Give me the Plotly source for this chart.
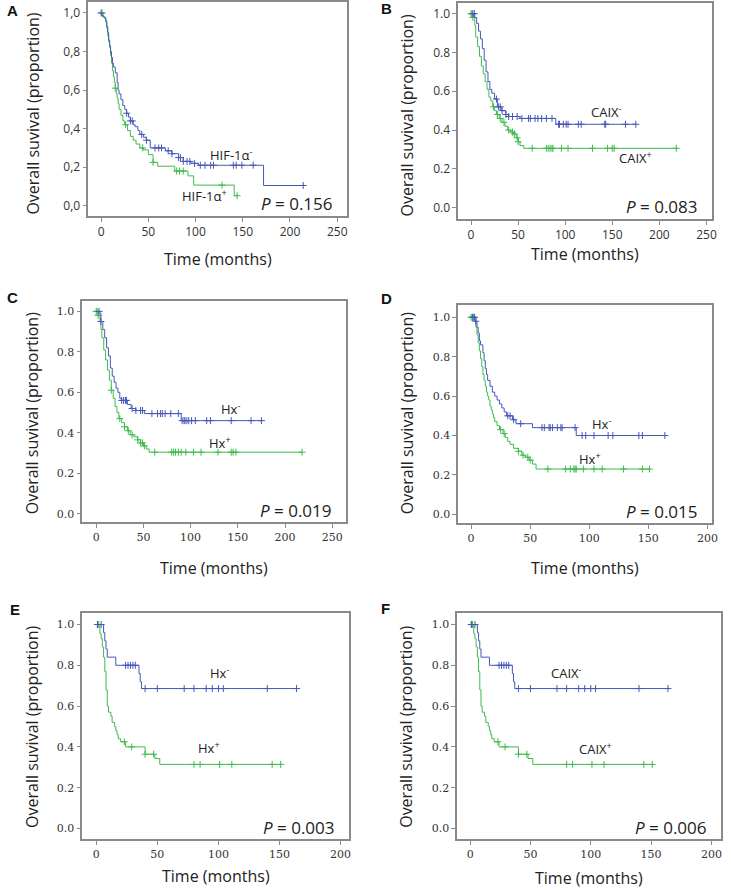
import numpy as np
import plotly.graph_objects as go

W, H = 731, 890

# ---- data (months / proportion surviving) ----
# A: HIF-1a
A_neg_t = [1, 3, 5, 6, 7, 8, 9, 10, 11, 12, 13, 15, 17, 18, 19, 21, 23, 25, 27, 29, 31, 34, 36, 39, 41, 45, 48, 52, 68, 75, 82, 87, 95, 103, 172]
A_neg_s = [0.985, 0.975, 0.96, 0.93, 0.9, 0.86, 0.83, 0.8, 0.77, 0.74, 0.72, 0.69, 0.64, 0.6, 0.58, 0.55, 0.52, 0.5, 0.48, 0.46, 0.44, 0.42, 0.41, 0.39, 0.37, 0.355, 0.34, 0.30, 0.285, 0.27, 0.25, 0.23, 0.22, 0.21, 0.105]
A_neg_c = [0, 27, 31, 33, 43, 48, 57, 61, 64, 71, 75, 82, 84, 87, 91, 94, 99, 105, 110, 116, 119, 140, 143, 149, 161, 214]
A_pos_t = [2, 4, 5, 6, 7, 8, 9, 10, 11, 12, 13, 14, 15, 16, 17, 18, 19, 21, 23, 25, 28, 31, 34, 37, 41, 45, 50, 55, 60, 78, 92, 98, 141]
A_pos_s = [0.98, 0.97, 0.95, 0.92, 0.88, 0.85, 0.82, 0.78, 0.74, 0.7, 0.67, 0.64, 0.61, 0.58, 0.56, 0.53, 0.5, 0.47, 0.44, 0.42, 0.39, 0.36, 0.34, 0.32, 0.3, 0.29, 0.265, 0.225, 0.205, 0.18, 0.155, 0.107, 0.052]
A_pos_c = [1, 15, 26, 44, 55, 80, 83, 87, 128, 144]

# B: CAIX
B_neg_t = [4, 6, 8, 10, 12, 14, 16, 18, 20, 22, 25, 28, 32, 37, 40, 52, 90]
B_neg_s = [0.98, 0.95, 0.91, 0.87, 0.82, 0.76, 0.7, 0.65, 0.61, 0.59, 0.56, 0.52, 0.5, 0.48, 0.47, 0.46, 0.43]
B_neg_c = [2, 3.5, 27, 29, 31, 33, 37, 40, 44, 49, 54, 61, 63, 68, 71, 75, 80, 86, 93, 94, 98, 101, 103, 114, 117, 142, 143, 164, 175]
B_pos_t = [2, 4, 5, 7, 9, 11, 13, 15, 17, 19, 21, 23, 25, 27, 30, 33, 36, 39, 42, 45, 48, 50, 52, 56]
B_pos_s = [0.98, 0.94, 0.88, 0.83, 0.78, 0.73, 0.69, 0.65, 0.61, 0.57, 0.55, 0.52, 0.5, 0.48, 0.46, 0.44, 0.42, 0.4, 0.39, 0.38, 0.36, 0.34, 0.32, 0.306]
B_pos_c = [0, 1, 2, 24, 28, 31, 35, 40, 44, 46, 49, 50, 65, 80, 82, 84, 86, 87, 96, 103, 129, 145, 150, 152, 218]

# C: hypoxia (Hx)
C_neg_t = [4, 5, 7, 9, 11, 13, 15, 17, 19, 21, 23, 25, 27, 33, 37, 42, 51, 90]
C_neg_s = [0.99, 0.95, 0.91, 0.87, 0.82, 0.78, 0.72, 0.68, 0.65, 0.62, 0.6, 0.57, 0.56, 0.54, 0.52, 0.51, 0.495, 0.46]
C_neg_c = [3, 5, 27, 29, 31, 32, 38, 42, 47, 49, 59, 65, 68, 70, 73, 79, 87, 91, 93, 94, 96, 98, 101, 105, 117, 121, 143, 164, 175]
C_pos_t = [2, 4, 5, 6, 8, 10, 12, 14, 16, 18, 20, 22, 24, 27, 30, 33, 36, 40, 44, 47, 50, 53, 56]
C_pos_s = [0.98, 0.95, 0.91, 0.87, 0.81, 0.76, 0.71, 0.66, 0.61, 0.57, 0.53, 0.5, 0.47, 0.45, 0.43, 0.41, 0.39, 0.38, 0.365, 0.35, 0.335, 0.32, 0.304]
C_pos_c = [0, 1, 2, 16, 25, 30, 34, 38, 44, 47, 49, 51, 62, 80, 82, 84, 87, 90, 95, 103, 111, 129, 143, 145, 148, 218]

# D: Hx, subgroup
D_neg_t = [4, 5, 6, 7, 8, 10, 11, 12, 13, 14, 16, 18, 20, 22, 24, 26, 28, 30, 35, 38, 52, 89]
D_neg_s = [0.98, 0.95, 0.92, 0.88, 0.86, 0.82, 0.78, 0.74, 0.71, 0.68, 0.65, 0.62, 0.6, 0.58, 0.56, 0.54, 0.52, 0.5, 0.48, 0.46, 0.44, 0.40]
D_neg_c = [1.4, 3, 4, 31, 33, 36, 42, 60, 62, 66, 67, 69, 73, 76, 77, 88, 94, 97, 104, 116, 120, 142, 145, 164]
D_pos_t = [3, 4, 5, 6, 7, 8, 9, 10, 11, 12, 13, 14, 15, 16, 17, 18, 19, 20, 22, 24, 27, 29, 31, 33, 36, 40, 43, 46, 49, 52, 55]
D_pos_s = [0.98, 0.95, 0.91, 0.87, 0.83, 0.79, 0.75, 0.71, 0.68, 0.65, 0.62, 0.6, 0.58, 0.55, 0.53, 0.51, 0.49, 0.47, 0.45, 0.43, 0.41, 0.39, 0.37, 0.355, 0.335, 0.32, 0.3, 0.29, 0.275, 0.255, 0.23]
D_pos_c = [0, 1, 2, 25, 28, 40, 44, 48, 50, 65, 80, 84, 87, 88, 89, 95, 104, 111, 129, 145, 151]

# E: Hx, small subgroup
E_neg_t = [6, 7, 8, 9, 16, 35, 36, 37]
E_neg_s = [0.96, 0.92, 0.88, 0.84, 0.80, 0.76, 0.72, 0.686]
E_neg_c = [1, 4, 24, 26, 28, 30, 32, 40, 50, 72, 80, 90, 95, 100, 104, 140, 164]
E_pos_t = [3, 4, 5, 6, 7, 8, 9, 10, 12, 13, 15, 16, 17, 18, 20, 24, 40, 48, 52]
E_pos_s = [0.955, 0.93, 0.89, 0.84, 0.77, 0.68, 0.6, 0.57, 0.55, 0.52, 0.5, 0.48, 0.46, 0.44, 0.425, 0.4, 0.364, 0.343, 0.314]
E_pos_c = [1, 2, 23, 29, 40, 47, 80, 85, 101, 111, 144, 151]

# F: CAIX, same subgroup (curves identical to E)
F_neg_t, F_neg_s, F_neg_c = list(E_neg_t), list(E_neg_s), list(E_neg_c)
F_pos_t, F_pos_s, F_pos_c = list(E_pos_t), list(E_pos_s), list(E_pos_c)

p_values = ["0.156", "0.083", "0.019", "0.015", "0.003", "0.006"]
neg_labels = ["HIF-1α<sup>-</sup>", "CAIX<sup>-</sup>", "Hx<sup>-</sup>", "Hx<sup>-</sup>", "Hx<sup>-</sup>", "CAIX<sup>-</sup>"]
pos_labels = ["HIF-1α<sup>+</sup>", "CAIX<sup>+</sup>", "Hx<sup>+</sup>", "Hx<sup>+</sup>", "Hx<sup>+</sup>", "CAIX<sup>+</sup>"]
letters = ["A", "B", "C", "D", "E", "F"]
y_ticks = [0.0, 0.2, 0.4, 0.6, 0.8, 1.0]

BLUE = "#4657b8"
GREEN = "#3fbb4e"
FRAME = "#8a8a8a"

# ---- layout per panel (pixel boxes, axis ranges, label spots) ----
panels = [
    dict(box=(89, 350, 1, 215), xr=[-13.6, 260.5], yr=[-0.052, 1.057], xmax=250,
         neg=(A_neg_t, A_neg_s, A_neg_c), pos=(A_pos_t, A_pos_s, A_pos_c),
         neg_xy=(138, 0.264), pos_xy=(110, 0.052), comma=True, serif=False,
         letter=(5, 10), ytitle=(33, 113), xtitle_y=258),
    dict(box=(462, 718, 2, 218), xr=[-13.6, 256], yr=[-0.057, 1.055], xmax=250,
         neg=(B_neg_t, B_neg_s, B_neg_c), pos=(B_pos_t, B_pos_s, B_pos_c),
         neg_xy=(144, 0.494), pos_xy=(175, 0.257), comma=False, serif=False,
         letter=(382, 8), ytitle=(410, 115), xtitle_y=253),
    dict(box=(83, 349, 300, 522), xr=[-14.7, 264.7], yr=[-0.043, 1.053], xmax=250,
         neg=(C_neg_t, C_neg_s, C_neg_c), pos=(C_pos_t, C_pos_s, C_pos_c),
         neg_xy=(142, 0.52), pos_xy=(131, 0.352), comma=False, serif=True,
         letter=(5, 297), ytitle=(32, 413), xtitle_y=568),
    dict(box=(462, 718, 304, 523), xr=[-10.9, 204], yr=[-0.046, 1.064], xmax=200,
         neg=(D_neg_t, D_neg_s, D_neg_c), pos=(D_pos_t, D_pos_s, D_pos_c),
         neg_xy=(110, 0.46), pos_xy=(101, 0.284), comma=False, serif=True,
         letter=(382, 298), ytitle=(410, 413), xtitle_y=568),
    dict(box=(83, 352, 613, 839), xr=[-11.4, 207], yr=[-0.052, 1.055], xmax=200,
         neg=(E_neg_t, E_neg_s, E_neg_c), pos=(E_pos_t, E_pos_s, E_pos_c),
         neg_xy=(101, 0.766), pos_xy=(92, 0.395), comma=False, serif=True,
         letter=(8, 609), ytitle=(32, 727), xtitle_y=876),
    dict(box=(461, 727, 613, 839), xr=[-10.7, 208], yr=[-0.052, 1.055], xmax=200,
         neg=(F_neg_t, F_neg_s, F_neg_c), pos=(F_pos_t, F_pos_s, F_pos_c),
         neg_xy=(80, 0.766), pos_xy=(104, 0.39), comma=False, serif=True,
         letter=(382, 608), ytitle=(410, 727), xtitle_y=878),
]


def km_line(t, s, cens):
    end = max(max(cens), max(t))
    x = [0] + list(t) + [end]
    y = [1.0] + list(s) + [s[-1]]
    t_arr = np.array(t, dtype=float)
    idx = np.searchsorted(t_arr, np.array(cens, dtype=float), side="right") - 1
    cy = [1.0 if i < 0 else s[i] for i in idx]
    return x, y, cy


fig = go.Figure()
layout = dict(width=W, height=H, margin=dict(l=0, r=0, t=0, b=0),
              paper_bgcolor="white", plot_bgcolor="white", showlegend=False)
annotations = []

for k, p in enumerate(panels):
    n = "" if k == 0 else str(k + 1)
    xa, ya = "x" + n, "y" + n
    x0, x1, y0, y1 = p["box"]

    for (t, s, c), col in ((p["pos"], GREEN), (p["neg"], BLUE)):
        lx, ly, cy = km_line(t, s, c)
        fig.add_trace(go.Scatter(x=lx, y=ly, mode="lines", line=dict(color=col, width=1, shape="hv"),
                                 xaxis=xa, yaxis=ya, hoverinfo="skip"))
        fig.add_trace(go.Scatter(x=c, y=cy, mode="markers", xaxis=xa, yaxis=ya,
                                 marker=dict(symbol="cross-thin", size=5, line=dict(color=col, width=1))))

    tick_font = dict(family="DejaVu Serif", size=11, color="#333") if p["serif"] \
        else dict(family="Open Sans", size=12, color="#333")
    ytext = [f"{v:.1f}".replace(".", ",") if p["comma"] else f"{v:.1f}" for v in y_ticks]

    axis_common = dict(showline=True, linecolor=FRAME, linewidth=1.5, mirror=True,
                       ticks="outside", ticklen=4, tickcolor=FRAME, tickwidth=1.2,
                       showgrid=False, zeroline=False, tickfont=tick_font)
    layout["xaxis" + n] = dict(axis_common, domain=[x0 / W, x1 / W], range=p["xr"],
                               tickvals=list(range(0, p["xmax"] + 1, 50)), anchor=ya)
    layout["yaxis" + n] = dict(axis_common, domain=[1 - y1 / H, 1 - y0 / H], range=p["yr"],
                               tickvals=y_ticks, ticktext=ytext, anchor=xa)

    txt = dict(family="Open Sans", size=13, color="#222")
    annotations += [
        dict(x=p["neg_xy"][0], y=p["neg_xy"][1], xref=xa, yref=ya, text=neg_labels[k],
             showarrow=False, font=txt),
        dict(x=p["pos_xy"][0], y=p["pos_xy"][1], xref=xa, yref=ya, text=pos_labels[k],
             showarrow=False, font=txt),
        dict(x=(x1 - 12) / W, y=1 - (y1 - 12) / H, xref="paper", yref="paper",
             text="<i>P</i> = " + p_values[k], showarrow=False, xanchor="right", yanchor="middle",
             font=dict(family="Open Sans", size=17, color="#222")),
        dict(x=p["letter"][0] / W, y=1 - p["letter"][1] / H, xref="paper", yref="paper",
             text="<b>" + letters[k] + "</b>", showarrow=False, xanchor="left", yanchor="middle",
             font=dict(family="Liberation Sans", size=15, color="#111")),
        dict(x=p["ytitle"][0] / W, y=1 - p["ytitle"][1] / H, xref="paper", yref="paper",
             text="Overall suvival (proportion)", textangle=-90, showarrow=False,
             xanchor="center", yanchor="middle", font=dict(family="Open Sans", size=16, color="#222")),
        dict(x=(x0 + x1) / 2 / W, y=1 - p["xtitle_y"] / H, xref="paper", yref="paper",
             text="Time (months)", showarrow=False, xanchor="center", yanchor="middle",
             font=dict(family="Open Sans", size=16, color="#222")),
    ]

layout["annotations"] = annotations
fig.update_layout(**layout)
# page body has a default 8px margin; remove it so the figure sits at the window origin
fig.write_html("out.html", config={"displayModeBar": False},
               post_script="document.body.style.margin='0';")
